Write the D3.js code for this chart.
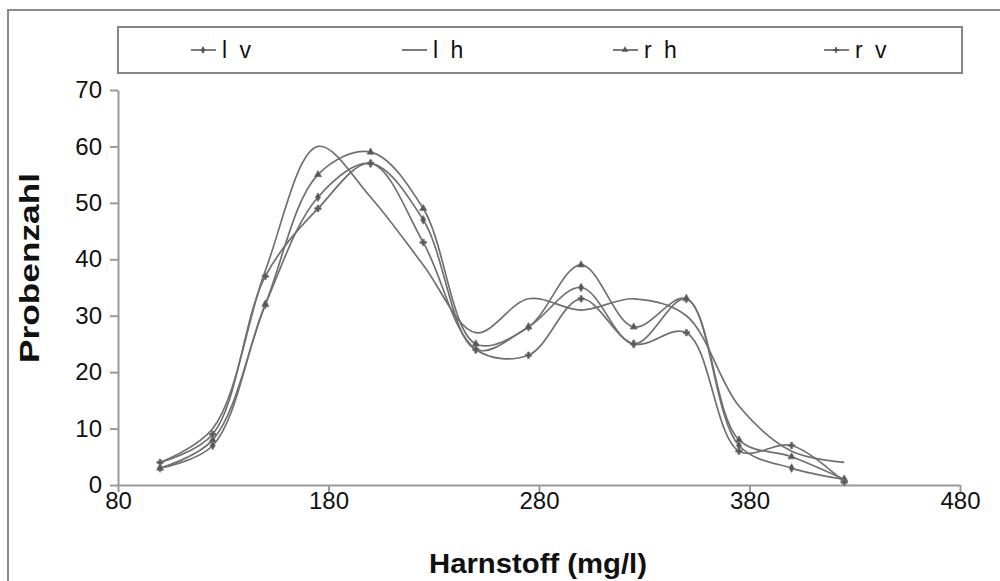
<!DOCTYPE html>
<html>
<head>
<meta charset="utf-8">
<script src="https://cdn.jsdelivr.net/npm/d3@7"></script>
<style>
  body { margin: 0; background: #fff; }
  text { font-family: "Liberation Sans", Arial, sans-serif; }
</style>
</head>
<body>
<div id="chart"></div>
<script>
// Harnstoff classes (mg/l) and sample counts per series
const harnstoff = [100, 125, 150, 175, 200, 225, 250, 275, 300, 325, 350, 375, 400, 425];
const lv = [3, 7, 32, 51, 57, 47, 24, 28, 35, 25, 33, 7, 3, 1];
const lh = [4, 10, 38, 60, 51, 39, 27, 33, 31, 33, 30, 14, 6, 4];
const rh = [3, 8, 32, 55, 59, 49, 25, 28, 39, 28, 33, 8, 5, 1];
const rv = [4, 9, 37, 49, 57, 43, 24, 23, 33, 25, 27, 6, 7, 0.5];
const seriesNames = ["l v", "l h", "r h", "r v"];
const xTicks = [80, 180, 280, 380, 480];
const yTicks = [0, 10, 20, 30, 40, 50, 60, 70];

const series = [lv, lh, rh, rv].map((vals, i) => ({
    name: seriesNames[i],
    values: vals.map((v, j) => ({ x: harnstoff[j], y: v }))
}));

const width = 1000, height = 581;
const svg = d3.select("#chart").append("svg")
    .attr("width", width)
    .attr("height", height);

// outer chart frame
svg.append("rect")
    .attr("x", 8).attr("y", 10)
    .attr("width", 1010).attr("height", 600)
    .attr("fill", "none")
    .attr("stroke", "#8c8c8c")
    .attr("stroke-width", 2);

const xScale = d3.scaleLinear().domain([80, 480]).range([118, 960]);
const yScale = d3.scaleLinear().domain([0, 70]).range([485, 90]);

const yAxis = svg.append("g")
    .attr("transform", "translate(118,0)")
    .call(d3.axisLeft(yScale).tickValues(yTicks).tickSize(8).tickSizeOuter(0).tickPadding(8));

const xAxis = svg.append("g")
    .attr("transform", "translate(0,485)")
    .call(d3.axisBottom(xScale).tickValues(xTicks).tickSize(7).tickSizeOuter(0).tickPadding(0));

[xAxis, yAxis].forEach(g => {
    g.select(".domain").attr("stroke", "#9a9a9a").attr("stroke-width", 2);
    g.selectAll(".tick line").attr("stroke", "#9a9a9a").attr("stroke-width", 2);
    g.selectAll(".tick text")
        .attr("font-size", 24)
        .attr("fill", "#111")
        .style("font-family", "'Liberation Sans', Arial, sans-serif");
});

// marker shapes per series
const markerType = {
    "l v": d3.symbolDiamond,
    "l h": null,
    "r h": d3.symbolTriangle,
    "r v": d3.symbolCross
};

const line = d3.line()
    .x(d => xScale(d.x))
    .y(d => yScale(d.y))
    .curve(d3.curveCatmullRom.alpha(0.5));

const groups = svg.selectAll(".series")
    .data(series)
    .enter()
    .append("g")
    .attr("class", "series");

groups.append("path")
    .attr("fill", "none")
    .attr("stroke", "#707070")
    .attr("stroke-width", 1.7)
    .attr("d", d => line(d.values));

groups.each(function (s) {
    if (!markerType[s.name]) return;
    d3.select(this).selectAll(".mk")
        .data(s.values)
        .enter()
        .append("path")
        .attr("class", "mk")
        .attr("transform", d => `translate(${xScale(d.x)},${yScale(d.y)})`)
        .attr("d", d3.symbol().type(markerType[s.name]).size(22))
        .attr("fill", "#555")
        .attr("stroke", "#777")
        .attr("stroke-width", 0.8);
});

// legend
const legend = svg.append("g");
legend.append("rect")
    .attr("x", 118).attr("y", 27)
    .attr("width", 844).attr("height", 46)
    .attr("fill", "none")
    .attr("stroke", "#858585")
    .attr("stroke-width", 2);

seriesNames.forEach((name, i) => {
    const lx = 191 + i * 211;
    const g = legend.append("g").attr("transform", `translate(${lx},50)`);
    g.append("line")
        .attr("x1", 0).attr("x2", 25)
        .attr("stroke", "#6e6e6e").attr("stroke-width", 1.8);
    if (markerType[name]) {
        g.append("path")
            .attr("transform", "translate(12,0)")
            .attr("d", d3.symbol().type(markerType[name]).size(18))
            .attr("fill", "#555");
    }
    g.append("text")
        .attr("x", 31).attr("y", 0)
        .attr("dy", "0.36em")
        .attr("font-size", 23)
        .attr("letter-spacing", 3)
        .attr("fill", "#111")
        .text(name);
});

// axis titles
svg.append("text")
    .attr("x", 538).attr("y", 573)
    .attr("text-anchor", "middle")
    .attr("font-size", 27)
    .attr("font-weight", "bold")
    .attr("fill", "#111")
    .attr("textLength", 218)
    .attr("lengthAdjust", "spacingAndGlyphs")
    .text("Harnstoff (mg/l)");

svg.append("text")
    .attr("transform", "translate(39,268) rotate(-90)")
    .attr("text-anchor", "middle")
    .attr("font-size", 27)
    .attr("font-weight", "bold")
    .attr("fill", "#111")
    .attr("textLength", 190)
    .attr("lengthAdjust", "spacingAndGlyphs")
    .text("Probenzahl");
</script>
</body>
</html>
